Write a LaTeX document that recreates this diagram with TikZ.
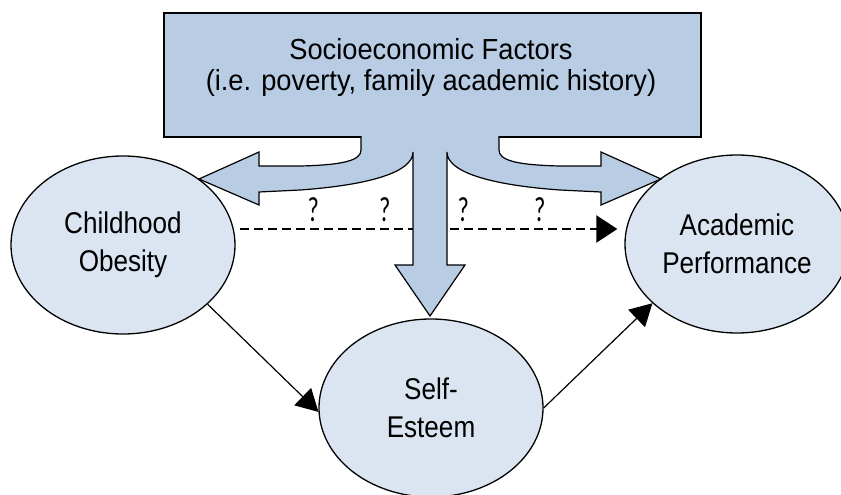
\documentclass[tikz,border=0pt]{standalone}
\usepackage{fontspec}
\setmainfont{Liberation Sans}
\newfontfamily\boxfont[FakeStretch=0.94]{Liberation Sans}
\newfontfamily\ovalfont[FakeStretch=0.87]{Liberation Sans}
\newfontfamily\qfont[FakeStretch=0.7]{Carlito}
\usetikzlibrary{arrows.meta,shapes.geometric}

\definecolor{factorblue}{RGB}{184,204,228}
\definecolor{ovalblue}{RGB}{219,229,241}

\tikzset{
  oval/.style={ellipse, draw=black, line width=1.3pt, fill=ovalblue,
    minimum width=224pt, minimum height=178pt, inner sep=0pt, align=center,
    font=\ovalfont\fontsize{30}{38}\selectfont},
  factorbox/.style={rectangle, draw=black, line width=2pt, fill=factorblue,
    minimum width=537pt, minimum height=124pt, inner sep=0pt},
  link/.style={line width=1.2pt, -{Triangle[length=22pt,width=24pt]}},
  maybe/.style={line width=2.2pt, dash pattern=on 9pt off 5pt,
    -{Triangle[length=21pt,width=27pt]}},
  qlabel/.style={above=6pt, inner sep=0pt, font=\qfont\fontsize{35}{35}\selectfont}
}

\begin{document}
\begin{tikzpicture}[x=1pt,y=-1pt]
		%%%%% START %%%%%
		\useasboundingbox (0,0) rectangle (841,495);
		\clip (0,0) rectangle (841,495);
		
		% the three ovals
		\node[oval] (obesity) at (123,245) {Childhood\\Obesity};
		\node[oval] (academic) at (737,244) {Academic\\Performance};
		\node[oval] (esteem) at (431,408) {Self-\\Esteem};
		
		% direct (unknown) link
		\draw[maybe] ([xshift=4pt,yshift=16pt]obesity.east) -- ([xshift=-7pt,yshift=15pt]academic.west)
			node[qlabel,pos=0.195] {?}
			node[qlabel,pos=0.384] {?}
			node[qlabel,pos=0.592] {?}
			node[qlabel,pos=0.795] {?};
		
		% mediated path
		\draw[link] (obesity.-35) -- (esteem.182);
		\draw[link] (esteem.east) -- (academic.215);
		
		% box with its three block arrows
		\node[factorbox] (factors) at (432.5,75) {};
		\draw[fill=factorblue, line width=1.2pt, line join=miter]
			(361,136) -- (361,150) .. controls (361,160) and (345,165) .. (300,166) -- (259,166)
			-- (259,152) -- (199,179) -- (259,205) -- (259,192) -- (300,190)
			.. controls (370,185) and (413,172) .. (413,152) -- (413,265)
			-- (395,265) -- (430,316) -- (465,265) -- (447,265) -- (447,152)
			.. controls (447,172) and (490,185) .. (560,190) -- (601,192)
			-- (601,205) -- (661,179) -- (601,152) -- (601,166) -- (560,166)
			.. controls (515,165) and (499,160) .. (499,150) -- (499,136);
		\node[font=\boxfont\fontsize{29}{31}\selectfont, align=center] (factorlabel) at (431,67.5)
			{Socioeconomic Factors\\(i.e. poverty, family academic history)};
		%%%%% END %%%%%
\end{tikzpicture}
\end{document}
